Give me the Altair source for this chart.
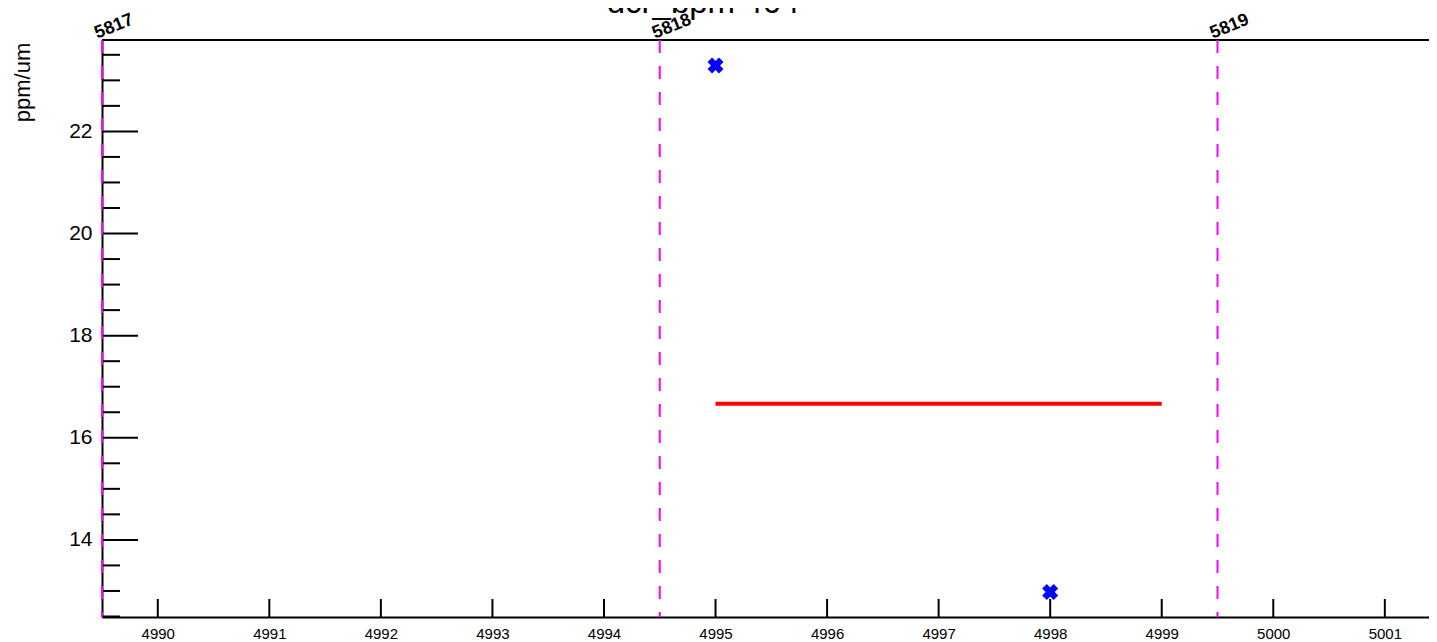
import altair as alt
import pandas as pd

# ---- data ----
title_text = "dcr_bpm 464"
y_title = "ppm/um"

x_tick_values = [4990, 4991, 4992, 4993, 4994, 4995, 4996, 4997, 4998, 4999, 5000, 5001]
y_major_values = [14, 16, 18, 20, 22]
y_minor_values = [12.5, 13, 13.5, 14.5, 15, 15.5, 16.5, 17, 17.5, 18.5, 19, 19.5,
                  20.5, 21, 21.5, 22.5, 23, 23.5]

marker_x = [4995, 4998]
marker_y = [23.29, 12.98]

fit_x = [4995, 4999]
fit_y = [16.665, 16.665]

run_x = [4989.5, 4994.5, 4999.5]
run_labels = ["5817", "5818", "5819"]

x_domain = [4989.5, 5001.396]
y_domain = [12.49, 23.79]

W, H = 1327, 577
FONT = "Liberation Sans"

xs = alt.Scale(domain=x_domain, nice=False, zero=False)
ys = alt.Scale(domain=y_domain, nice=False, zero=False)

x_axis = alt.Axis(
    values=x_tick_values, format="d", title=None, ticks=False, tickSize=0,
    labelPadding=9, labelFontSize=15, labelFont=FONT, labelColor="black",
    domainColor="black", domainWidth=2, grid=False)

y_axis = alt.Axis(
    values=y_major_values, format="d", title=y_title, ticks=False, tickSize=0,
    labelPadding=10, labelFontSize=21, labelFont=FONT, labelColor="black",
    domainColor="black", domainWidth=2, grid=False,
    titleFont=FONT, titleFontSize=22, titleFontWeight="normal", titleColor="black",
    titleAngle=270, titleX=-73, titleY=42, titleAlign="center",
    titleBaseline="alphabetic")

markers = pd.DataFrame({"x": marker_x, "y": marker_y})
fit = pd.DataFrame({"x": fit_x, "y": fit_y})
runs = pd.DataFrame({"x": run_x, "label": run_labels})
xt = pd.DataFrame({"x": x_tick_values})
ymaj = pd.DataFrame({"y": y_major_values})
ymin = pd.DataFrame({"y": y_minor_values})

X = lambda: alt.X("x:Q", scale=xs, axis=x_axis)
Y = lambda: alt.Y("y:Q", scale=ys, axis=y_axis)

# inward ticks drawn as short rules placed by the scales
x_ticks = alt.Chart(xt).mark_rule(color="black", strokeWidth=2).encode(
    x=X(), y=alt.value(H), y2=alt.value(H - 18),
)

y_major = alt.Chart(ymaj).mark_rule(color="black", strokeWidth=2).encode(
    y=Y(), x=alt.value(0), x2=alt.value(36),
)

y_minor = alt.Chart(ymin).mark_rule(color="black", strokeWidth=2).encode(
    y=Y(), x=alt.value(0), x2=alt.value(18),
)

top_border = alt.Chart(xt).mark_rule(color="black", strokeWidth=2).encode(
    x=alt.value(0), x2=alt.value(W), y=alt.value(0),
)

run_lines = alt.Chart(runs).mark_rule(color="#FF00FF", strokeWidth=2, strokeDash=[13, 13]).encode(
    x=X(), y=alt.value(0), y2=alt.value(H),
)

run_text = alt.Chart(runs).mark_text(
    angle=338, align="left", baseline="alphabetic", dx=-5, fontSize=18,
    fontWeight="bold", font=FONT, color="black",
).encode(
    x=X(), y=alt.value(-3), text="label:N",
)

fit_line = alt.Chart(fit).mark_line(color="#FF0000", strokeWidth=4).encode(
    x=X(), y=Y(),
)

points = alt.Chart(markers).mark_point(
    shape="cross", angle=45, size=260, filled=True, color="#0000FF", opacity=1,
).encode(
    x=X(), y=Y(),
)

title = alt.Chart(pd.DataFrame({"t": [title_text]})).mark_text(
    fontSize=33, font=FONT, color="black", align="center", baseline="alphabetic",
).encode(
    x=alt.value(601), y=alt.value(-27), text="t:N",
)

chart = alt.layer(
    x_ticks, y_major, y_minor, top_border, run_lines, fit_line, points, run_text, title
).properties(
    width=W, height=H,
    autosize=alt.AutoSizeParams(type="none"),
    padding={"left": 94, "top": 32, "right": 0, "bottom": 25},
).configure_view(stroke=None).configure(background="white")

chart.save("out.html", embed_options={"renderer": "svg", "actions": False})
